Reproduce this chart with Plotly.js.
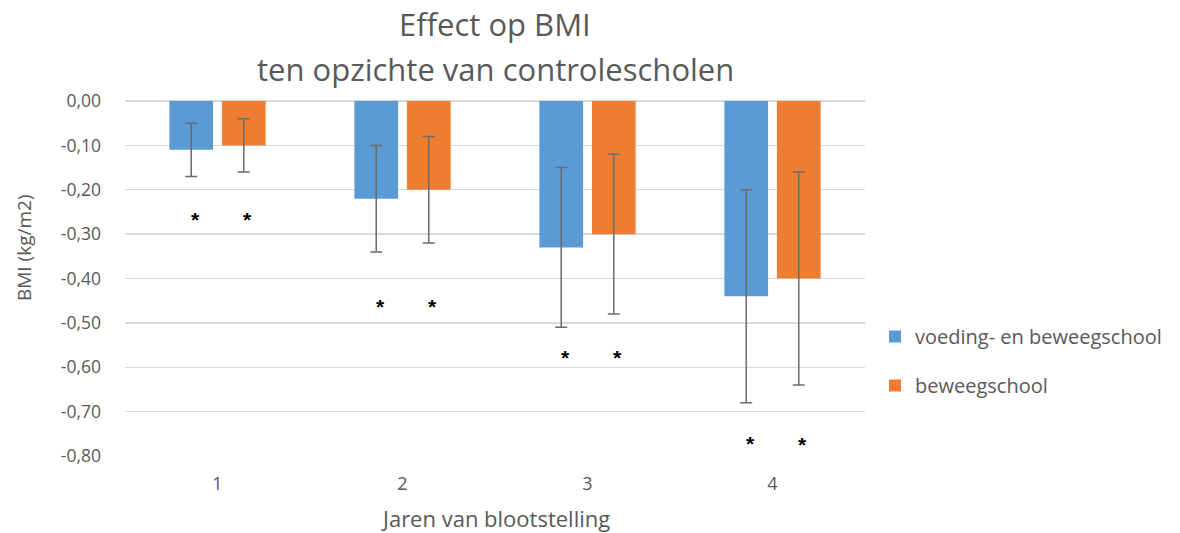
<!DOCTYPE html>
<html>
<head>
<meta charset="utf-8">
<script src="https://cdn.plot.ly/plotly-3.0.1.min.js"></script>
<style>html,body{margin:0;padding:0;background:#fff;}#chart{width:1180px;height:533px;}</style>
</head>
<body>
<div id="chart"></div>
<script>
const years = ['1', '2', '3', '4'];
const seriesNames = ['voeding- en beweegschool', 'beweegschool'];
const voedingBeweeg = [-0.11, -0.22, -0.33, -0.44];
const voedingBeweegErr = [0.06, 0.12, 0.18, 0.24];
const beweeg = [-0.10, -0.20, -0.30, -0.40];
const beweegErr = [0.06, 0.12, 0.18, 0.24];
const asteriskVoeding = [-0.258, -0.453, -0.57, -0.762];
const asteriskBeweeg = [-0.258, -0.453, -0.57, -0.765];
const yTickVals = [0, -0.1, -0.2, -0.3, -0.4, -0.5, -0.6, -0.7, -0.8];
const yTickText = ['0,00', '-0,10', '-0,20', '-0,30', '-0,40', '-0,50', '-0,60', '-0,70', '-0,80'];
const titleLine1 = 'Effect op BMI';
const titleLine2 = 'ten opzichte van controlescholen';
const xTitle = 'Jaren van blootstelling';
const yTitle = 'BMI (kg/m2)';

const txt = '#595959';
const errStyle = {type: 'data', visible: true, thickness: 1.5, width: 6, color: '#6b6b6b'};

const traces = [
  {type: 'bar', x: years, y: voedingBeweeg, name: seriesNames[0], legendgroup: 'a',
   marker: {color: '#5B9BD5'}, error_y: Object.assign({array: voedingBeweegErr}, errStyle), hoverinfo: 'y'},
  {type: 'bar', x: years, y: beweeg, name: seriesNames[1], legendgroup: 'b',
   marker: {color: '#ED7D31'}, error_y: Object.assign({array: beweegErr}, errStyle), hoverinfo: 'y'}
];

const starFont = {family: 'Liberation Sans, Arial', size: 21, color: '#000', weight: 'bold'};
const annotations = [];
years.forEach((yr, i) => {
  annotations.push({x: i, y: asteriskVoeding[i], xref: 'x', yref: 'y', text: '<b>*</b>', showarrow: false,
    xshift: -22, yshift: -4, font: starFont});
  annotations.push({x: i, y: asteriskBeweeg[i], xref: 'x', yref: 'y', text: '<b>*</b>', showarrow: false,
    xshift: 30, yshift: -4, font: starFont});
});
// chart title, two lines with wide spacing
annotations.push({text: titleLine1, xref: 'paper', yref: 'paper', x: 0.5, y: (456 - 24) / 355,
  yanchor: 'middle', showarrow: false, font: {family: 'Open Sans', size: 31, color: txt}});
annotations.push({text: titleLine2, xref: 'paper', yref: 'paper', x: 0.5, y: (456 - 69) / 355,
  yanchor: 'middle', showarrow: false, font: {family: 'Open Sans', size: 31, color: txt}});
// axis titles
annotations.push({text: xTitle, xref: 'paper', yref: 'paper', x: 0.5, y: (456 - 518) / 355,
  yanchor: 'middle', showarrow: false, font: {family: 'Open Sans', size: 22, color: txt}});
annotations.push({text: yTitle, xref: 'paper', yref: 'paper', x: (24 - 125) / 740, y: (456 - 248) / 355,
  xanchor: 'center', yanchor: 'middle', textangle: -90, showarrow: false,
  font: {family: 'Open Sans', size: 19, color: txt}});

const layout = {
  width: 1180, height: 533,
  margin: {l: 125, r: 315, t: 101, b: 77},
  paper_bgcolor: '#fff', plot_bgcolor: '#fff',
  font: {family: 'Open Sans', color: txt},
  barmode: 'group', bargap: 0.432, bargroupgap: 0.168,
  showlegend: true,
  legend: {x: (875 - 125) / 740, xanchor: 'left', y: (456 - 361) / 355, yanchor: 'middle', tracegroupgap: 20,
    font: {family: 'Open Sans', size: 20, color: txt}, bgcolor: 'rgba(0,0,0,0)'},
  xaxis: {type: 'category', range: [-0.5, 3.5], showgrid: false, showline: false, zeroline: false, ticks: '',
    tickfont: {family: 'Open Sans', size: 18, color: txt}, ticklabelstandoff: 15},
  yaxis: {range: [-0.8, 0], tickvals: yTickVals, ticktext: yTickText, showgrid: true, gridcolor: '#D9D9D9', gridwidth: 1.3,
    zeroline: true, zerolinecolor: '#D9D9D9', zerolinewidth: 1.3, showline: false, ticks: '',
    tickfont: {family: 'Open Sans', size: 17.5, color: txt}, ticklabelstandoff: 23},
  annotations: annotations
};

Plotly.newPlot('chart', traces, layout, {displayModeBar: false, staticPlot: true});
</script>
</body>
</html>
